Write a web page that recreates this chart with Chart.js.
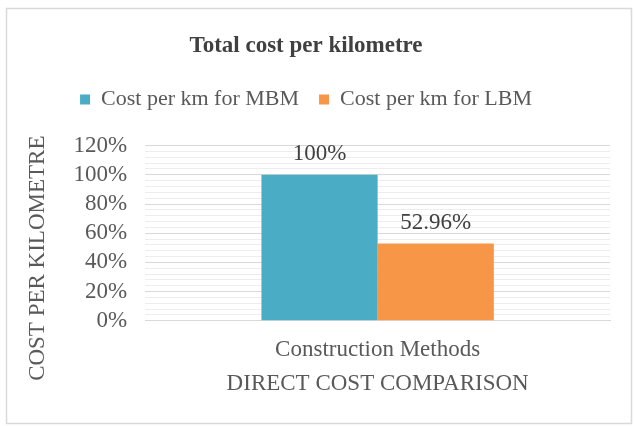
<!DOCTYPE html>
<html>
<head>
<meta charset="utf-8">
<script src="https://cdn.jsdelivr.net/npm/chart.js@4"></script>
<style>
  html, body { margin: 0; padding: 0; background: #fff; }
  #wrap { width: 635px; height: 426px; position: relative; }
</style>
</head>
<body>
<div id="wrap"><canvas id="costChart" width="635" height="426"></canvas></div>
<script>
// valores
const categorias = ['Construction Methods'];
const nomesSeries = ['Cost per km for MBM', 'Cost per km for LBM'];
const valoresMBM = [100];
const valoresLBM = [52.96];
const rotulosDados = [['100%'], ['52.96%']];
const coresSeries = ['#4BACC6', '#F79646'];
const tituloEixoY = 'COST PER KILOMETRE';

const fonte = '"Liberation Serif", "Times New Roman", serif';

// moldura cinza em volta do gráfico
const molduraPlugin = {
    id: 'moldura',
    beforeDraw(chart) {
        const ctx = chart.ctx;
        ctx.save();
        ctx.fillStyle = '#fff';
        ctx.fillRect(0, 0, chart.width, chart.height);
        ctx.strokeStyle = '#d9d9d9';
        ctx.lineWidth = 1.5;
        ctx.strokeRect(6.5, 8.5, 625, 415);
        ctx.restore();
    }
};

// rótulos em cima das barras + título do eixo Y (um pouco mais abaixo que o padrão)
const rotulosPlugin = {
    id: 'rotulos',
    afterDatasetsDraw(chart) {
        const ctx = chart.ctx;
        ctx.save();
        ctx.font = '23px ' + fonte;
        ctx.fillStyle = '#404040';
        ctx.textAlign = 'center';
        ctx.textBaseline = 'middle';
        chart.data.datasets.forEach((ds, i) => {
            const meta = chart.getDatasetMeta(i);
            meta.data.forEach((bar, j) => {
                ctx.fillText(rotulosDados[i][j], bar.x, bar.y - 21);
            });
        });

        const area = chart.chartArea;
        const escalaY = chart.scales.y;
        ctx.fillStyle = '#595959';
        ctx.translate(escalaY.left + 22 + 13.8, (area.top + area.bottom) / 2 + 25);
        ctx.rotate(-Math.PI / 2);
        ctx.fillText(tituloEixoY, 0, 0);
        ctx.restore();
    }
};

// espaço extra abaixo da legenda
const legendaPlugin = {
    id: 'legendaEspaco',
    beforeInit(chart) {
        const fitOriginal = chart.legend.fit;
        chart.legend.fit = function () {
            fitOriginal.bind(chart.legend)();
            this.height += 25;
        };
    }
};

new Chart(document.getElementById('costChart'), {
    type: 'bar',
    data: {
        labels: categorias,
        datasets: [
            { label: nomesSeries[0], data: valoresMBM, backgroundColor: coresSeries[0], borderWidth: 0 },
            { label: nomesSeries[1], data: valoresLBM, backgroundColor: coresSeries[1], borderWidth: 0 }
        ]
    },
    options: {
        responsive: false,
        animation: false,
        layout: { padding: { left: 2, right: 25, top: 0, bottom: 28 } },
        datasets: { bar: { categoryPercentage: 0.5, barPercentage: 1 } },
        plugins: {
            title: {
                display: true,
                text: 'Total cost per kilometre',
                color: '#404040',
                font: { family: fonte, size: 23, weight: 'bold' },
                padding: { top: 32, bottom: 9 }
            },
            legend: {
                position: 'top',
                labels: {
                    color: '#595959',
                    font: { family: fonte, size: 22 },
                    boxWidth: 10,
                    boxHeight: 10,
                    padding: 20
                }
            },
            tooltip: { enabled: false }
        },
        scales: {
            x: {
                grid: { display: false, drawTicks: false },
                border: { color: '#d9d9d9' },
                ticks: { color: '#595959', font: { family: fonte, size: 23 }, padding: 15, maxRotation: 0 },
                title: {
                    display: true,
                    text: 'DIRECT COST COMPARISON',
                    color: '#595959',
                    font: { family: fonte, size: 23 },
                    padding: { top: -8, bottom: 0 }
                }
            },
            y: {
                min: 0,
                max: 120,
                border: { display: false },
                grid: {
                    drawTicks: false,
                    color: ctx => (ctx.tick && ctx.tick.value % 20 === 0) ? '#d9d9d9' : '#ededed'
                },
                ticks: {
                    stepSize: 4,
                    autoSkip: false,
                    maxTicksLimit: 40,
                    padding: 18,
                    color: '#595959',
                    font: { family: fonte, size: 23 },
                    callback: v => (v % 20 === 0) ? v + '%' : ''
                },
                title: {
                    // só reserva o espaço; o texto é desenhado pelo plugin
                    display: true,
                    text: tituloEixoY,
                    color: 'rgba(0,0,0,0)',
                    font: { family: fonte, size: 23 },
                    padding: { top: 22, bottom: 4 }
                }
            }
        }
    },
    plugins: [molduraPlugin, rotulosPlugin, legendaPlugin]
});
</script>
</body>
</html>
